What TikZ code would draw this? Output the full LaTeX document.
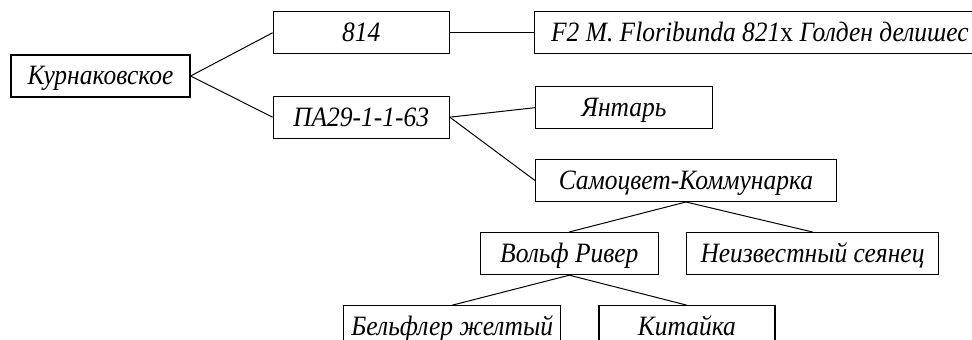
\documentclass[tikz,border=0pt]{standalone}
\usepackage{fontspec}
\setmainfont{Liberation Serif}[FakeStretch=0.91]
\usepackage{tikz}
\usetikzlibrary{positioning}
\tikzset{-,
shorten >=0pt,shorten <=0pt,
node distance=15pt,
vt/.style={rectangle,draw,line width=0.6pt,inner sep=0pt,minimum height=21pt,
  text height=12pt,text depth=3pt,font=\fontsize{14}{16}\selectfont\itshape},
ln/.style={line width=0.5pt},
}

\begin{document}
\begin{tikzpicture}
	\useasboundingbox (0,0) rectangle (486pt,-170pt);
	\clip (0,0) rectangle (486pt,-170pt);

	\node[vt,minimum width=89.5pt] (kur) at (50.25pt,-38pt) {Курнаковское};
	\node[vt,minimum width=88pt,above right=0pt and 41pt of kur] (n814) {814};
	\node[vt,minimum width=88pt,below right=-1pt and 41pt of kur] (pa) {ПА29-1-1-63};
	\node[vt,minimum width=225.5pt,right=42pt of n814] (f2) {F2 M. Floribunda 821\/\textup{x} Голден делишес};
	\node[vt,minimum width=88.5pt,right=42.5pt of pa,yshift=4.75pt] (yant) {Янтарь};
	\node[vt,minimum width=150.5pt,below right=10pt and 42.5pt of pa] (sam) {Самоцвет-Коммунарка};
	\node[vt,minimum width=89pt,below left=15pt and 13.5pt of sam.south] (wolf) {Вольф Ривер};
	\node[vt,minimum width=126pt,right=13.5pt of wolf] (neiz) {Неизвестный сеянец};
	\node[vt,minimum width=108.5pt,below left=15pt and 4pt of wolf.south] (bel) {Бельфлер желтый};
	\node[vt,minimum width=88pt,right=18.5pt of bel] (kit) {Китайка};

	\path[ln]
	(kur.east) edge (n814.west)
	(kur.east) edge (pa.west)
	(n814.east) edge (f2.west)
	(pa.east) edge (yant.west)
	(pa.east) edge (sam.west)
	(sam.south) edge (wolf.north)
	(sam.south) edge (neiz.north)
	(wolf.south) edge (bel.north)
	(wolf.south) edge (kit.north)
	;
\end{tikzpicture}
\end{document}
